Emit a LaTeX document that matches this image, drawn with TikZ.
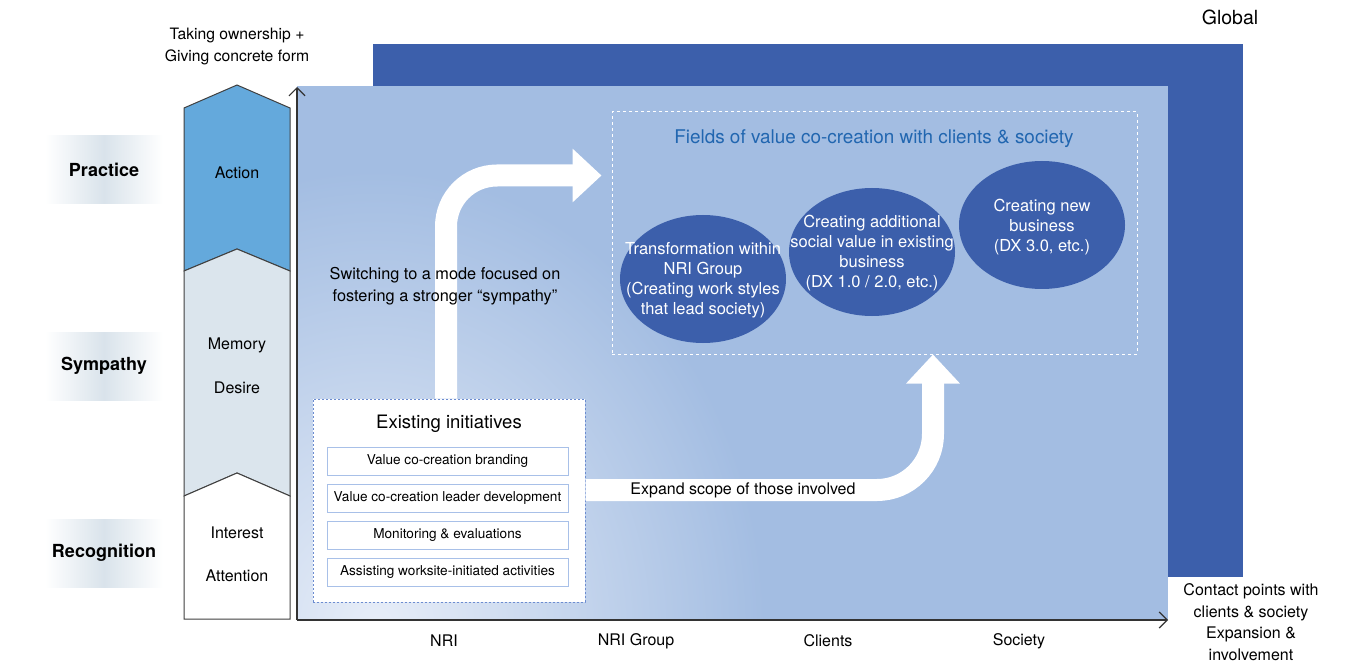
\documentclass[tikz,border=0pt]{standalone}
\usepackage{fontspec}
\setmainfont{TeX Gyre Heros}
\usetikzlibrary{positioning,arrows.meta,shapes.geometric}

\definecolor{globalblue}{HTML}{3C5FAB}
\definecolor{bgblue}{HTML}{A3BDE2}
\definecolor{bglight}{HTML}{E8EEF8}
\definecolor{actionblue}{HTML}{64A9DC}
\definecolor{sympgray}{HTML}{DBE5ED}
\definecolor{titleblue}{HTML}{2166B0}
\definecolor{boxblue}{HTML}{A8C0E8}
\definecolor{dotblue}{HTML}{6C8CD0}
\definecolor{bandgray}{HTML}{D9E3EB}

\begin{document}
\begin{tikzpicture}[x=1pt, y=-1pt,
  band/.style={left color=white, right color=white, middle color=bandgray, minimum width=118pt, minimum height=68pt, font=\fontsize{18}{20}\selectfont\bfseries},
  stage/.style={font=\fontsize{16}{18}\selectfont},
  colseg/.style={draw=black!75, line width=1pt, line join=miter},
  axis/.style={draw=black!80, line width=1.2pt, -{Straight Barb[length=8pt,width=16pt]}},
  field/.style={ellipse, fill=globalblue, minimum width=166pt, minimum height=128pt, inner sep=0pt},
  fieldtext/.style={text=white, align=center, font=\fontsize{16.5}{20}\selectfont},
  fieldsbox/.style={draw=white, dash pattern=on 3pt off 3pt, line width=1pt},
  initframe/.style={draw=dotblue, fill=white, dash pattern=on 2pt off 2pt, line width=1pt},
  item/.style={draw=boxblue, fill=white, line width=1pt, minimum width=241pt, minimum height=28pt, font=\fontsize{13.6}{15}\selectfont},
  bigarrow/.style={draw=white, line width=22pt, -{Triangle[length=29pt,width=52pt]}}
]
\useasboundingbox (0,0) rectangle (1358,663);
\fill[white] (0,0) rectangle (1358,663);

% global frame and inner field
\fill[globalblue] (373,44) rectangle (1243,577);
\begin{scope}
  \clip (297,86) rectangle (1168,620);
  \fill[bgblue] (297,86) rectangle (1168,620);
  \shade[inner color=bglight, outer color=bgblue] (375,630) ellipse (390 and 460);
\end{scope}
\node[font=\fontsize{19.5}{22}\selectfont] (global) at (1230,17) {Global};

% fields of value co-creation
\node[fieldsbox, minimum width=525pt, minimum height=242pt] (fields) at (874.5,233) {};
\node[font=\fontsize{18.9}{22}\selectfont, text=titleblue] (fieldstitle) at (874,139) {Fields of value co-creation with clients \& society};
\node[field] (transform) at (703,279) {};
\node[fieldtext] at ([yshift=-1pt]transform.center) {Transformation within\\NRI Group\\(Creating work styles\\that lead society)};
\node[field] (additional) at (872,252) {};
\node[fieldtext] at ([yshift=-1pt]additional.center) {Creating additional\\social value in existing\\business\\(DX 1.0 / 2.0, etc.)};
\node[field] (newbiz) at (1042,225) {};
\node[fieldtext] at ([yshift=-2pt]newbiz.center) {Creating new\\business\\(DX 3.0, etc.)};

% existing initiatives
\node[initframe, minimum width=272pt, minimum height=203pt] (init) at (449,500.5) {};
\node[font=\fontsize{18.5}{20}\selectfont] (inittitle) at (449,424) {Existing initiatives};
\node[item] (branding) at (447.5,461) {Value co-creation branding};
\node[item] (leader) at (447.5,498) {Value co-creation leader development};
\node[item] (monitor) at (447.5,535) {Monitoring \& evaluations};
\node[item] (assist) at (447.5,572) {Assisting worksite-initiated activities};

% white flow arrows
\draw[bigarrow, rounded corners=51pt] ([xshift=-3pt]init.north) |- ([xshift=-10pt,yshift=-64pt]fields.north west);
\draw[bigarrow, rounded corners=56pt] ([yshift=10.5pt]init.east) -| ([xshift=58.5pt]fields.south);
\node[align=center, font=\fontsize{16.3}{22}\selectfont] (switching) at (445,286) {Switching to a mode focused on\\fostering a stronger “sympathy”};
\node[stage] (expand) at (743,490) {Expand scope of those involved};

% stage column
\filldraw[colseg, fill=actionblue] (184,108) -- (237,85) -- (290,108) -- (290,271) -- (237,249) -- (184,271) -- cycle;
\filldraw[colseg, fill=sympgray] (184,271) -- (237,249) -- (290,271) -- (290,496) -- (237,473) -- (184,496) -- cycle;
\filldraw[colseg, fill=white] (184,496) -- (237,473) -- (290,496) -- (290,619) -- (184,619) -- cycle;
\node[align=center, font=\fontsize{15.7}{22}\selectfont] (ownership) at (237,46) {Taking ownership +\\Giving concrete form};
\node[stage] (action) at (237,173) {Action};
\node[stage] (memory) at (237,345) {Memory};
\node[stage] (desire) at (237,388) {Desire};
\node[stage] (interest) at (237,533) {Interest};
\node[stage] (attention) at (237,576) {Attention};

% phase bands
\node[band] (practice) at (104,170) {Practice};
\node[band] (sympathy) at (104,366) {Sympathy};
\node[band] (recognition) at (104,553) {Recognition};

% axes
\coordinate (origin) at (297,620);
\coordinate (ytop) at (297,87);
\coordinate (xend) at (1168,620);
\draw[axis] (origin) -- (ytop);
\draw[axis] (origin) -- (xend);
\node[stage] (nri) at (444,641) {NRI};
\node[stage] (group) at (636,641) {NRI Group};
\node[stage] (clients) at (828,641) {Clients};
\node[stage] (society) at (1019,641) {Society};
\node[align=center, font=\fontsize{16}{21.5}\selectfont] (contact) at (1251,622) {Contact points with\\clients \& society\\Expansion \&\\involvement};
\end{tikzpicture}
\end{document}
